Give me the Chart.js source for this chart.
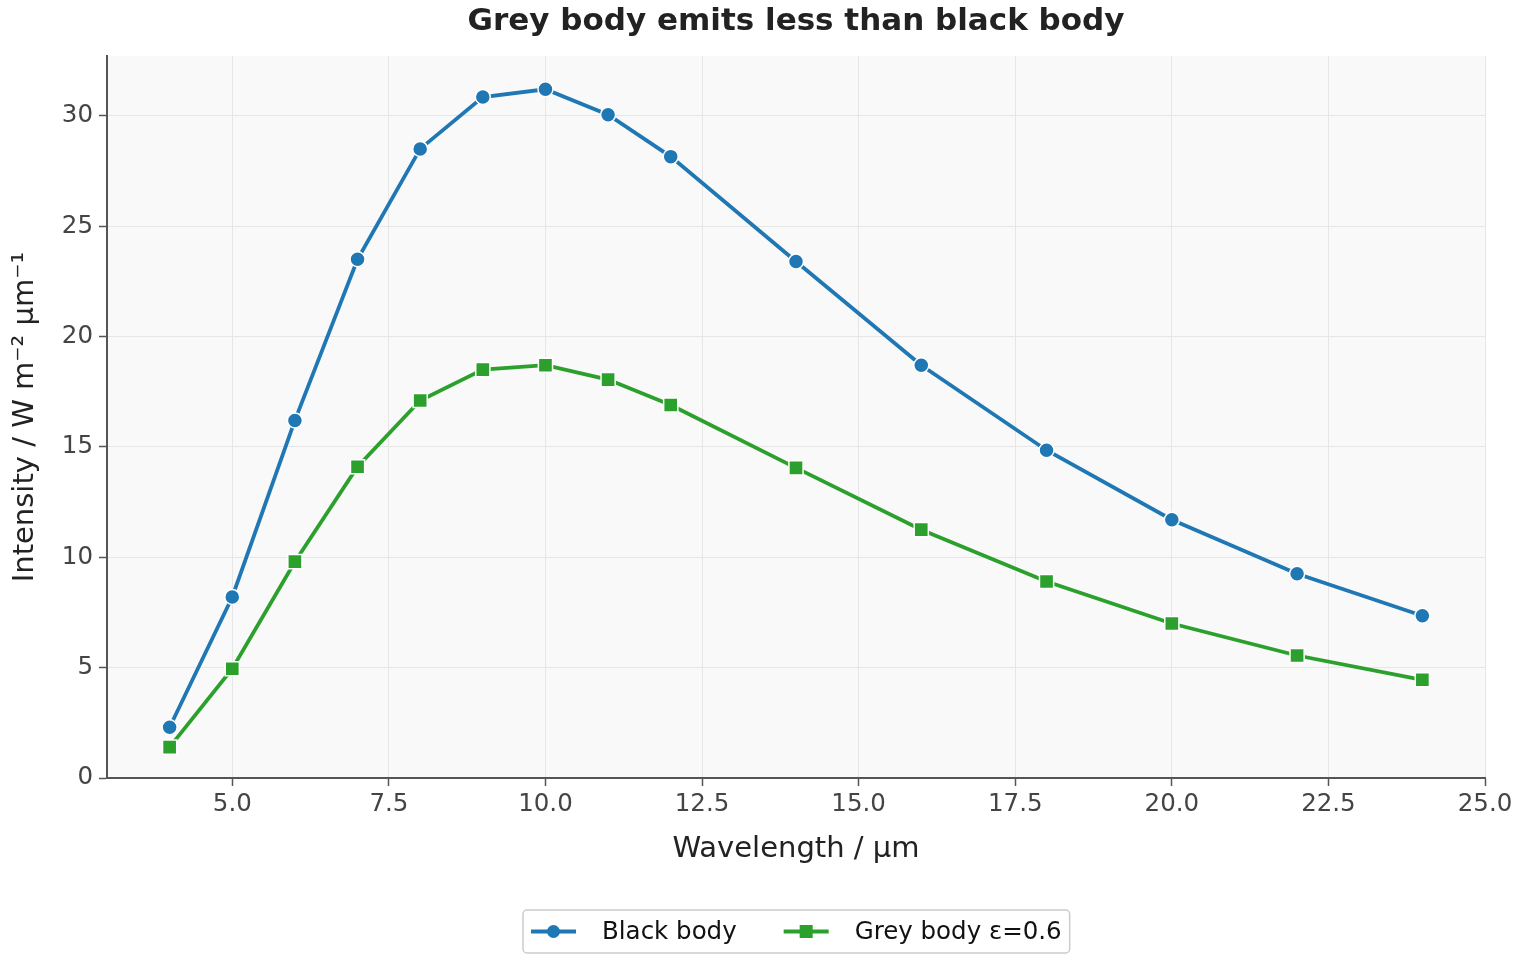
<!DOCTYPE html>
<html>
<head>
<meta charset="utf-8">
<script src="https://cdn.jsdelivr.net/npm/chart.js@4"></script>
<style>
  html, body { margin: 0; padding: 0; background: #fff; }
  #wrap { width: 1520px; height: 960px; }
</style>
</head>
<body>
<div id="wrap"><canvas id="chart" width="1520" height="960"></canvas></div>
<script>
// values
const wavelengths = [4, 5, 6, 7, 8, 9, 10, 11, 12, 14, 16, 18, 20, 22, 24];
const blackBody = [2.3, 8.2, 16.2, 23.5, 28.5, 30.85, 31.2, 30.05, 28.15, 23.4, 18.7, 14.85, 11.7, 9.25, 7.35];
const greyBody = [1.4, 4.95, 9.8, 14.1, 17.1, 18.5, 18.7, 18.05, 16.9, 14.05, 11.25, 8.9, 7.0, 5.55, 4.45];
const xTicks = [5, 7.5, 10, 12.5, 15, 17.5, 20, 22.5, 25];
const yTicks = [0, 5, 10, 15, 20, 25, 30];

const BLUE = '#1f77b4';
const GREEN = '#2ca02c';
const FONT = "'DejaVu Sans', sans-serif";

const toPoints = (ys) => ys.map((y, i) => ({ x: wavelengths[i], y }));

// plot area background
const plotBg = {
  id: 'plotBg',
  beforeDraw(chart) {
    const { ctx, chartArea: a } = chart;
    ctx.save();
    ctx.fillStyle = '#f9f9f9';
    ctx.fillRect(a.left, a.top, a.right - a.left, a.bottom - a.top);
    ctx.restore();
  }
};

// legend box under the axis title: line + marker handles, like matplotlib
const boxLegend = {
  id: 'boxLegend',
  afterDraw(chart) {
    const ctx = chart.ctx;
    const area = chart.chartArea;
    const items = chart.data.datasets.map(d => ({ label: d.label, color: d.borderColor, style: d.pointStyle }));
    ctx.save();
    ctx.font = '24.5px ' + FONT;
    const handle = 45, gapText = 26, gapItem = 47, pad = 8;
    let total = pad * 2;
    items.forEach((it, i) => {
      it.w = ctx.measureText(it.label).width;
      total += handle + gapText + it.w + (i ? gapItem : 0);
    });
    const left = Math.round((area.left + area.right) / 2 - total / 2);
    const top = 910, h = 43, cy = top + h / 2;
    ctx.fillStyle = '#fff';
    ctx.strokeStyle = '#cccccc';
    ctx.lineWidth = 1.5;
    ctx.beginPath();
    ctx.roundRect(left, top, total, h, 4);
    ctx.fill();
    ctx.stroke();
    let x = left + pad;
    items.forEach((it, i) => {
      if (i) x += gapItem;
      ctx.strokeStyle = it.color;
      ctx.lineWidth = 3.8;
      ctx.beginPath();
      ctx.moveTo(x, cy);
      ctx.lineTo(x + handle, cy);
      ctx.stroke();
      ctx.fillStyle = it.color;
      const mx = x + handle / 2;
      if (it.style === 'rect') {
        ctx.fillRect(mx - 6.5, cy - 6.5, 13, 13);
      } else {
        ctx.beginPath();
        ctx.arc(mx, cy, 6.5, 0, Math.PI * 2);
        ctx.fill();
      }
      x += handle + gapText;
      ctx.fillStyle = '#111';
      ctx.textBaseline = 'middle';
      ctx.fillText(it.label, x, cy + 1);
      x += it.w;
    });
    ctx.restore();
  }
};

new Chart(document.getElementById('chart'), {
  type: 'line',
  data: {
    datasets: [
      {
        label: 'Black body',
        data: toPoints(blackBody),
        borderColor: BLUE,
        backgroundColor: BLUE,
        borderWidth: 3.8,
        pointStyle: 'circle',
        pointRadius: 7.5,
        pointBorderColor: '#fff',
        pointBorderWidth: 1.5,
        tension: 0,
      },
      {
        label: 'Grey body ε=0.6',
        data: toPoints(greyBody),
        borderColor: GREEN,
        backgroundColor: GREEN,
        borderWidth: 3.8,
        pointStyle: 'rect',
        pointRadius: 10,
        pointBorderColor: '#fff',
        pointBorderWidth: 1.5,
        tension: 0,
      },
    ],
  },
  options: {
    responsive: false,
    animation: false,
    layout: { padding: { left: 0, right: 35, top: 0, bottom: 92 } },
    plugins: {
      legend: { display: false },
      tooltip: { enabled: false },
      title: {
        display: true,
        fullSize: false,
        text: 'Grey body emits less than black body',
        color: '#222',
        font: { family: FONT, size: 31, weight: 'bold' },
        padding: { top: 3, bottom: 16 },
      },
    },
    scales: {
      x: {
        type: 'linear',
        min: 3,
        max: 25,
        afterBuildTicks: (axis) => { axis.ticks = xTicks.map(v => ({ value: v })); },
        afterFit: (axis) => { axis.height = 90; },
        border: { display: true, color: '#555', width: 2 },
        grid: { color: '#e6e6e6', lineWidth: 1, tickLength: 8, tickColor: '#555', tickWidth: 1.5 },
        ticks: {
          color: '#444',
          padding: 4,
          maxRotation: 0,
          font: { family: FONT, size: 24.5 },
          callback: (v) => Number(v).toFixed(1),
        },
        title: {
          display: true,
          text: 'Wavelength / µm',
          color: '#222',
          font: { family: FONT, size: 29 },
          padding: { top: 2, bottom: 1 },
        },
      },
      y: {
        min: 0,
        max: 32.7,
        afterBuildTicks: (axis) => { axis.ticks = yTicks.map(v => ({ value: v })); },
        afterFit: (axis) => { axis.width = 107; },
        border: { display: true, color: '#555', width: 2 },
        grid: { color: '#e6e6e6', lineWidth: 1, tickLength: 8, tickColor: '#555', tickWidth: 1.5 },
        ticks: {
          color: '#444',
          padding: 6,
          font: { family: FONT, size: 24.5 },
        },
        title: {
          display: true,
          text: 'Intensity / W m⁻² µm⁻¹',
          color: '#222',
          font: { family: FONT, size: 29 },
          padding: { top: 7.6, bottom: 2 },
        },
      },
    },
  },
  plugins: [plotBg, boxLegend],
});
</script>
</body>
</html>
